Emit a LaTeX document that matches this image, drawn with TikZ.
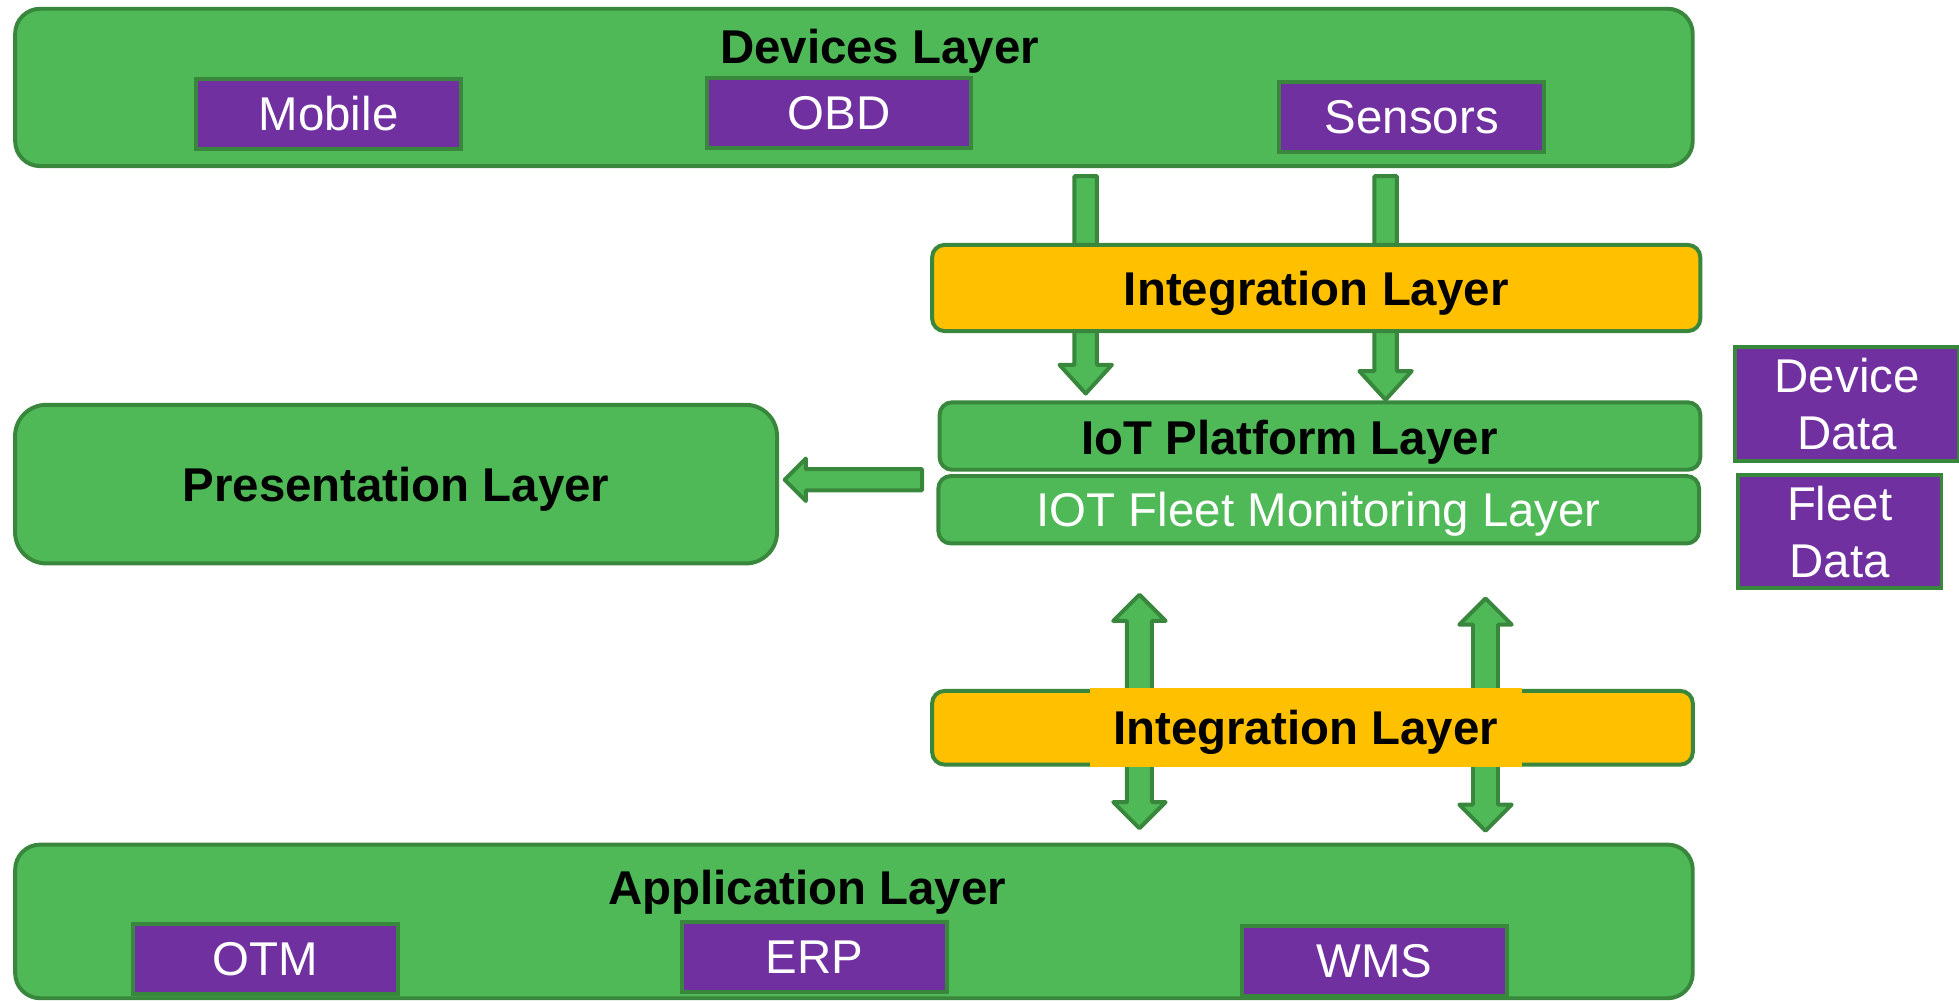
\documentclass[tikz,border=0pt]{standalone}
\usepackage{fontspec}
\setmainfont{Liberation Sans}
\usetikzlibrary{calc}
\definecolor{lgreen}{RGB}{79,184,87}
\definecolor{dgreen}{RGB}{56,135,60}
\definecolor{dpurple}{RGB}{112,48,160}
\definecolor{amber}{RGB}{255,192,0}
\newcommand{\lyrfont}{\fontsize{21.6}{26}\selectfont}
% block arrows
\newcommand{\blkdown}[2]{%
  \draw[blkarrow] ($(#1)+(-9,0)$) -- ($(#2)+(-9,-23)$) -- ($(#2)+(-21,-23)$) -- (#2)
    -- ($(#2)+(21,-23)$) -- ($(#2)+(9,-23)$) -- ($(#1)+(9,0)$) -- cycle;}
\newcommand{\blkboth}[2]{%
  \draw[blkarrow] (#1) -- ($(#1)+(21,21)$) -- ($(#1)+(10,21)$) -- ($(#2)+(10,-21)$)
    -- ($(#2)+(21,-21)$) -- (#2) -- ($(#2)+(-21,-21)$) -- ($(#2)+(-10,-21)$)
    -- ($(#1)+(-10,21)$) -- ($(#1)+(-21,21)$) -- cycle;}
\newcommand{\blkleft}[2]{%
  \draw[blkarrow] ($(#1)+(0,-8.5)$) -- ($(#2)+(17,-8.5)$) -- ($(#2)+(17,-17)$) -- (#2)
    -- ($(#2)+(17,17)$) -- ($(#2)+(17,8.5)$) -- ($(#1)+(0,8.5)$) -- cycle;}
\begin{document}
\begin{tikzpicture}[x=0.02cm, y=-0.02cm, font=\lyrfont,
  layer/.style={draw=dgreen, fill=lgreen, line width=1.8pt, rounded corners=0.4cm, inner sep=0pt},
  sub/.style={draw=dgreen, fill=lgreen, line width=1.8pt, rounded corners=0.2cm, inner sep=0pt,
    minimum width=12.18cm, minimum height=1.08cm},
  integ/.style={draw=dgreen, fill=amber, line width=1.8pt, rounded corners=0.2cm, inner sep=0pt},
  item/.style={draw=dgreen, fill=dpurple, text=white, line width=1.8pt, inner sep=0pt,
    minimum width=4.24cm, minimum height=1.12cm},
  title/.style={font=\lyrfont\bfseries, inner sep=0pt, text depth=0pt},
  blkarrow/.style={draw=dgreen, fill=lgreen, line width=1.8pt, line join=round}]
  \useasboundingbox (0,0) rectangle (1568,801);

  % arrows go under the boxes
  \coordinate (t1a) at (869,141);  \coordinate (t1b) at (869,315);
  \coordinate (t2a) at (1109,141); \coordinate (t2b) at (1109,320);
  \coordinate (pa) at (738,384);   \coordinate (pb) at (628,384);
  \coordinate (b1a) at (912,476);  \coordinate (b1b) at (912,663);
  \coordinate (b2a) at (1189,479); \coordinate (b2b) at (1189,665);
  \blkdown{t1a}{t1b}
  \blkdown{t2a}{t2b}
  \blkleft{pa}{pb}
  \blkboth{b1a}{b1b}
  \blkboth{b2a}{b2b}

  % devices
  \node[layer, minimum width=26.86cm, minimum height=2.52cm] (dev) at (683.5,70) {};
  \node[title] (devt) at (704,37) {Devices Layer};
  \node[item] (mob) at (263,91) {Mobile};
  \node[item] (obd) at (671.5,90.5) {OBD};
  \node[item] (sen) at (1130,93.5) {Sensors};

  % middle
  \node[integ, title, minimum width=12.3cm, minimum height=1.38cm] (int1) at (1053.5,230.5) {Integration Layer};
  \node[sub] (iot) at (1056.5,349) {};
  \node[title] (iott) at (1032,350) {IoT Platform Layer};
  \node[sub, text=white, text depth=0pt] (fleet) at (1055.5,408) {IOT Fleet Monitoring Layer};
  \node[layer, title, rounded corners=0.5cm, minimum width=12.2cm, minimum height=2.54cm] (pres) at (317,387.5) {Presentation Layer};
  \node[item, align=center, minimum width=3.58cm, minimum height=1.82cm] (ddata) at (1478.5,323.5) {Device\\Data};
  \node[item, align=center, minimum width=3.26cm, minimum height=1.82cm] (fdata) at (1472.5,425.5) {Fleet\\Data};

  % lower integration
  \node[integ, minimum width=12.18cm, minimum height=1.18cm] (int2) at (1050.5,582.5) {};
  \node[title, fill=amber, minimum width=6.92cm, minimum height=1.26cm] (int2t) at (1045,582.5) {Integration Layer};

  % application
  \node[layer, minimum width=26.86cm, minimum height=2.46cm] (app) at (683.5,737.5) {};
  \node[title] (appt) at (646,710) {Application Layer};
  \node[item] (otm) at (212.5,767.5) {OTM};
  \node[item] (erp) at (652,766) {ERP};
  \node[item] (wms) at (1100,769.5) {WMS};
\end{tikzpicture}
\end{document}
